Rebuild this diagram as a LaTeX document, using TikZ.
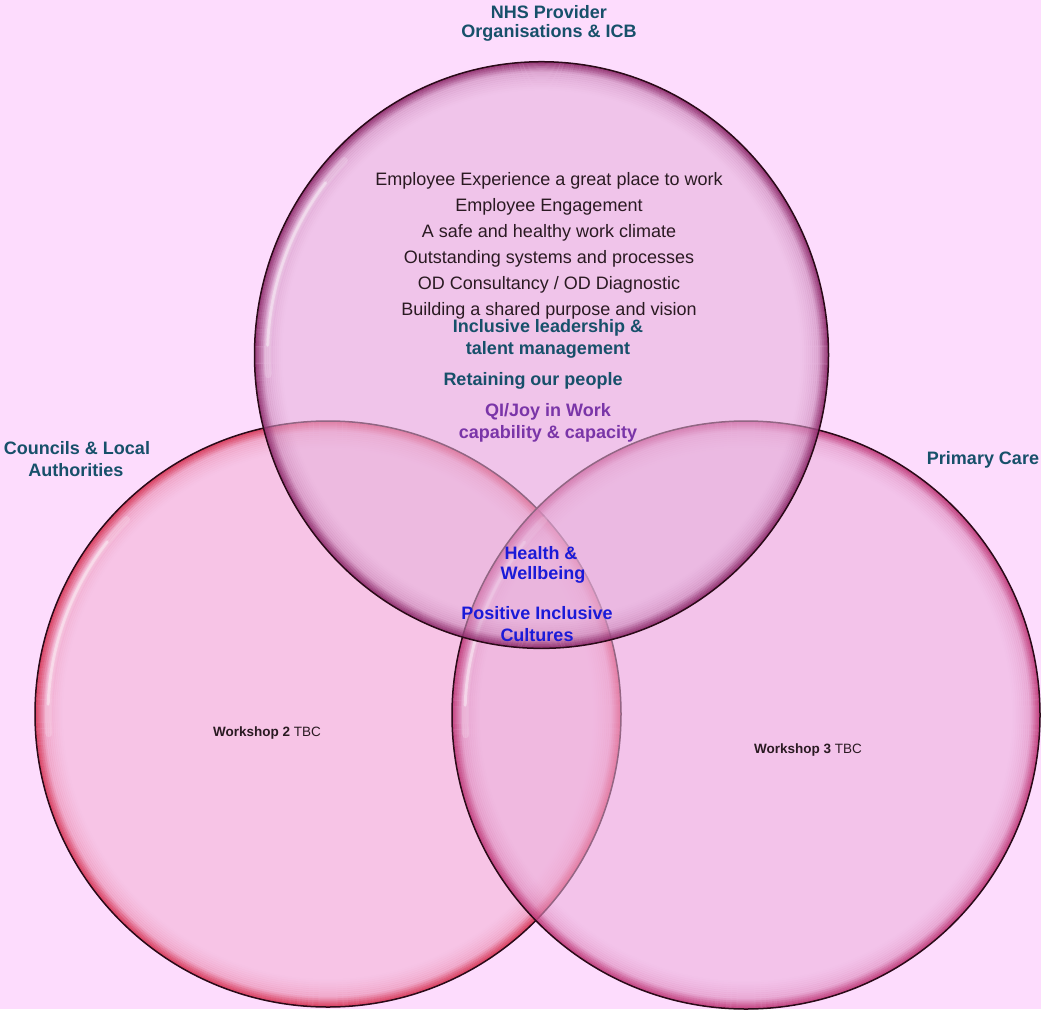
\documentclass[tikz,border=0pt]{standalone}
\usepackage{fontspec}
\setmainfont{Liberation Sans}
\definecolor{bgpink}{HTML}{FDDCFD}
\definecolor{topfill}{HTML}{E6B2DC}
\definecolor{leftfill}{HTML}{F3B2D4}
\definecolor{rightfill}{HTML}{ECB0DC}
\definecolor{toprim}{HTML}{8A2466}
\definecolor{leftrim}{HTML}{D63050}
\definecolor{rightrim}{HTML}{BE3474}
\definecolor{edge}{HTML}{2A0A18}
\definecolor{teal}{HTML}{17506A}
\definecolor{purp}{HTML}{7A35A8}
\definecolor{blu}{HTML}{1A1AD8}
\definecolor{bodyc}{HTML}{2A1A22}
\tikzset{
  body/.style={font=\fontsize{18}{20}\selectfont, text=bodyc, inner sep=0pt, anchor=center},
  ttl/.style={font=\fontsize{18}{20}\selectfont\bfseries, text=teal, inner sep=0pt, anchor=center},
  qi/.style={font=\fontsize{18}{20}\selectfont\bfseries, text=purp, inner sep=0pt, anchor=center},
  hw/.style={font=\fontsize{18}{20}\selectfont\bfseries, text=blu, inner sep=0pt, anchor=center},
  ws/.style={font=\fontsize{13.5}{16}\selectfont, text=bodyc, inner sep=0pt, anchor=center},
}
\newcommand{\glossring}[5]{% x, y, r, rimcolor, fillcolor
  \fill[#5, fill opacity=0.55] (#1,#2) circle[radius=#3];
  \foreach \i in {0,...,13}{%
    \pgfmathsetmacro{\op}{0.3*(1-\i/14)^1.5}%
    \pgfmathsetmacro{\rr}{#3-1-\i*2}%
    \draw[#4, line width=2.2pt, draw opacity=\op] (#1,#2) circle[radius=\rr];
  }
  \foreach \i in {0,...,9}{%
    \pgfmathsetmacro{\op}{0.75*(1-\i/10)^1.3}%
    \pgfmathsetmacro{\rr}{#3-0.5-\i*1}%
    \draw[#4, line width=1.2pt, draw opacity=\op] (#1,#2) circle[radius=\rr];
  }
  \draw[white, line width=7pt, draw opacity=0.18, line cap=round] (#1,#2) ++(176:#3-13) arc[start angle=176, end angle=224, radius=#3-13];
  \draw[white, line width=3pt, draw opacity=0.45, line cap=round] (#1,#2) ++(182:#3-13) arc[start angle=182, end angle=218, radius=#3-13];
  \draw[edge, line width=1.5pt] (#1,#2) circle[radius=#3];
}
\begin{document}
\begin{tikzpicture}[x=1pt,y=-1pt]
\useasboundingbox (0,0) rectangle (1041,1009);
\clip (0,0) rectangle (1041,1009);
\fill[bgpink] (0,0) rectangle (1041,1009);

\glossring{328}{714}{293}{leftrim}{leftfill}
\glossring{746}{715}{294}{rightrim}{rightfill}
\begin{scope}[yscale=1.022]
\glossring{541.5}{347.4}{287}{toprim}{topfill}
\end{scope}

% titles
\node[ttl] (t1) at (549,12) {NHS Provider};
\node[ttl] (t2) at (549,33) {Organisations \& ICB};
\node[ttl] (c1) at (77,448) {Councils \& Local};
\node[ttl] (c2) at (76,470) {Authorities};
\node[ttl] (pc) at (983,460) {Primary Care};

% body text
\node[body] (b1) at (549,181) {Employee Experience a great place to work};
\node[body] (b2) at (549,207) {Employee Engagement};
\node[body] (b3) at (549,233) {A safe and healthy work climate};
\node[body] (b4) at (549,259) {Outstanding systems and processes};
\node[body] (b5) at (549,285) {OD Consultancy / OD Diagnostic};
\node[body] (b6) at (549,311) {Building a shared purpose and vision};

\node[ttl] (l1) at (548,328) {Inclusive leadership \&};
\node[ttl] (l2) at (548,350) {talent management};
\node[ttl] (r1) at (533,381) {Retaining our people};
\node[qi] (q1) at (548,412) {QI/Joy in Work};
\node[qi] (q2) at (548,434) {capability \& capacity};

\node[hw] (h1) at (541,553) {Health \&};
\node[hw] (h2) at (543,575) {Wellbeing};
\node[hw] (p1) at (537,613) {Positive Inclusive};
\node[hw] (p2) at (537,635) {Cultures};

\node[ws] (w2) at (267,733) {\textbf{Workshop 2} TBC};
\node[ws] (w3) at (808,750) {\textbf{Workshop 3} TBC};
\end{tikzpicture}
\end{document}
